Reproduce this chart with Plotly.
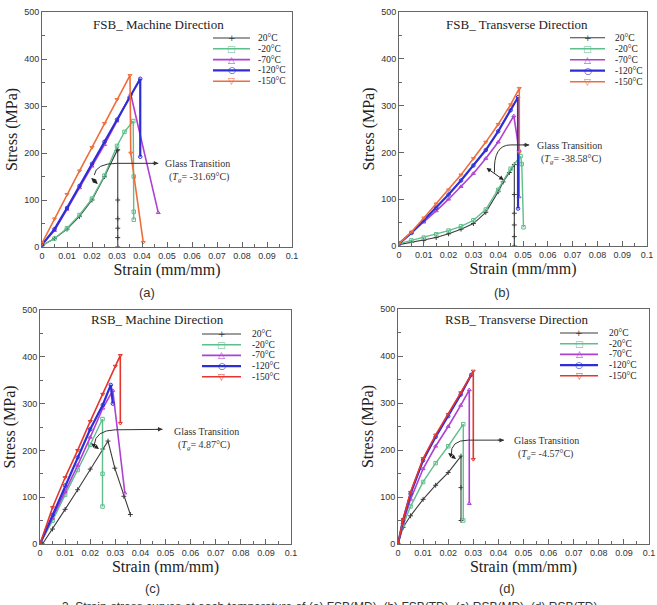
import plotly.graph_objects as go

# ---------------- DATA ----------------
temps = ["20\u00b0C", "-20\u00b0C", "-70\u00b0C", "-120\u00b0C", "-150\u00b0C"]
panel_titles = ["FSB_ Machine Direction", "FSB_ Transverse Direction",
                "RSB_ Machine Direction", "RSB_ Transverse Direction"]
panel_labels = ["(a)", "(b)", "(c)", "(d)"]
tg_labels = ["-31.69\u00b0C", "-38.58\u00b0C", "4.87\u00b0C", "-4.57\u00b0C"]

x_tick_values = [0, 0.01, 0.02, 0.03, 0.04, 0.05, 0.06, 0.07, 0.08, 0.09, 0.1]
x_tick_labels = ["0", "0.01", "0.02", "0.03", "0.04", "0.05", "0.06", "0.07", "0.08", "0.09", "0.1"]
y_tick_values = [0, 100, 200, 300, 400, 500]

# (a) FSB machine direction
fsb_md_20_strain = [0, 0.005, 0.01, 0.015, 0.02, 0.025, 0.03, 0.0303, 0.0303, 0.0303, 0.0303, 0.0303, 0.0303]
fsb_md_20_stress = [3, 18, 38, 65, 100, 150, 205, 207, 100, 60, 40, 20, 0]
fsb_md_m20_strain = [0, 0.005, 0.01, 0.015, 0.02, 0.025, 0.03, 0.033, 0.0365, 0.0367, 0.0367, 0.0367]
fsb_md_m20_stress = [3, 18, 40, 68, 103, 152, 215, 245, 268, 150, 75, 58]
fsb_md_m70_strain = [0, 0.005, 0.01, 0.015, 0.02, 0.025, 0.03, 0.0355, 0.0465]
fsb_md_m70_stress = [5, 35, 80, 126, 172, 218, 268, 325, 73]
fsb_md_m120_strain = [0, 0.005, 0.01, 0.015, 0.02, 0.025, 0.03, 0.035, 0.0393, 0.0393]
fsb_md_m120_stress = [5, 38, 83, 130, 177, 224, 271, 318, 358, 192]
fsb_md_m150_strain = [0, 0.005, 0.01, 0.015, 0.02, 0.025, 0.03, 0.0352, 0.0355, 0.0405]
fsb_md_m150_stress = [8, 60, 112, 162, 212, 263, 314, 365, 200, 10]

# (b) FSB transverse direction
fsb_td_20_strain = [0, 0.005, 0.01, 0.015, 0.02, 0.025, 0.03, 0.035, 0.04, 0.042, 0.0445, 0.0465, 0.0465, 0.0465, 0.0465, 0.0465, 0.0465]
fsb_td_20_stress = [3, 8, 12, 18, 26, 36, 48, 72, 116, 137, 157, 174, 110, 70, 45, 20, 0]
fsb_td_m20_strain = [0, 0.005, 0.01, 0.015, 0.02, 0.025, 0.03, 0.035, 0.04, 0.045, 0.049, 0.0495, 0.0502]
fsb_td_m20_stress = [5, 12, 18, 25, 33, 42, 55, 78, 120, 165, 192, 175, 40]
fsb_td_m70_strain = [0, 0.005, 0.01, 0.015, 0.02, 0.025, 0.03, 0.035, 0.04, 0.0463, 0.0484, 0.0484]
fsb_td_m70_stress = [5, 28, 51, 75, 100, 127, 155, 187, 222, 278, 205, 105]
fsb_td_m120_strain = [0, 0.005, 0.01, 0.015, 0.02, 0.025, 0.03, 0.035, 0.04, 0.045, 0.048, 0.048]
fsb_td_m120_stress = [5, 28, 55, 82, 110, 140, 172, 205, 245, 290, 318, 80]
fsb_td_m150_strain = [0, 0.005, 0.01, 0.015, 0.02, 0.025, 0.03, 0.035, 0.04, 0.045, 0.0485, 0.0485]
fsb_td_m150_stress = [5, 30, 60, 90, 120, 152, 187, 222, 260, 302, 337, 200]

# (c) RSB machine direction
rsb_md_20_strain = [0.001, 0.005, 0.01, 0.015, 0.02, 0.025, 0.0271, 0.0298, 0.0334, 0.036]
rsb_md_20_stress = [0, 32, 74, 116, 160, 203, 220, 162, 102, 63]
rsb_md_m20_strain = [0, 0.005, 0.01, 0.015, 0.02, 0.0249, 0.0249, 0.0249]
rsb_md_m20_stress = [0, 50, 105, 158, 212, 267, 150, 80]
rsb_md_m70_strain = [0, 0.005, 0.01, 0.015, 0.02, 0.025, 0.029, 0.0338]
rsb_md_m70_stress = [0, 55, 112, 168, 228, 290, 328, 109]
rsb_md_m120_strain = [0, 0.005, 0.01, 0.015, 0.02, 0.025, 0.0282, 0.029]
rsb_md_m120_stress = [0, 62, 125, 185, 245, 297, 340, 300]
rsb_md_m150_strain = [0, 0.005, 0.01, 0.015, 0.02, 0.025, 0.03, 0.032, 0.032]
rsb_md_m150_stress = [0, 78, 142, 200, 262, 320, 380, 403, 258]

# (d) RSB transverse direction
rsb_td_20_strain = [0, 0.002, 0.005, 0.01, 0.015, 0.02, 0.0251, 0.0251, 0.0251]
rsb_td_20_stress = [0, 35, 60, 95, 125, 152, 187, 120, 50]
rsb_td_m20_strain = [0, 0.002, 0.005, 0.01, 0.015, 0.02, 0.026, 0.026]
rsb_td_m20_stress = [0, 40, 80, 132, 172, 208, 255, 50]
rsb_td_m70_strain = [0, 0.002, 0.005, 0.01, 0.015, 0.02, 0.025, 0.0284, 0.0284]
rsb_td_m70_stress = [0, 45, 95, 160, 208, 250, 295, 328, 86]
rsb_td_m120_strain = [0, 0.002, 0.005, 0.01, 0.015, 0.02, 0.025, 0.0292]
rsb_td_m120_stress = [0, 50, 107, 178, 228, 272, 318, 360]
rsb_td_m150_strain = [0, 0.002, 0.005, 0.01, 0.015, 0.02, 0.025, 0.03, 0.03]
rsb_td_m150_stress = [0, 52, 110, 182, 232, 276, 322, 368, 180]

# glass-transition annotation anchors (strain, stress) per panel
tg_arrow_a = [(0.0191, 150), (0.0223, 134)]
tg_arrow_b = [(0.0347, 169), (0.0422, 141)]
tg_arrow_c = [(0.0198, 217), (0.0235, 203)]
tg_arrow_d = [(0.0194, 196), (0.0231, 181)]
tg_curve_a = [(0.0209, 153), (0.0215, 178), (0.03, 178), (0.0465, 178)]
tg_curve_b = [(0.0385, 157), (0.038, 216), (0.045, 216), (0.0525, 216)]
tg_curve_c = [(0.0216, 212), (0.022, 243), (0.03, 244), (0.0488, 245)]
tg_curve_d = [(0.0212, 189), (0.0208, 221), (0.028, 221), (0.0422, 221)]
tg_text_pos = [(0.0484, 177), (0.0548, 214), (0.0526, 241), (0.0454, 221)]

panels_data = [
    [(fsb_md_20_strain, fsb_md_20_stress), (fsb_md_m20_strain, fsb_md_m20_stress),
     (fsb_md_m70_strain, fsb_md_m70_stress), (fsb_md_m120_strain, fsb_md_m120_stress),
     (fsb_md_m150_strain, fsb_md_m150_stress)],
    [(fsb_td_20_strain, fsb_td_20_stress), (fsb_td_m20_strain, fsb_td_m20_stress),
     (fsb_td_m70_strain, fsb_td_m70_stress), (fsb_td_m120_strain, fsb_td_m120_stress),
     (fsb_td_m150_strain, fsb_td_m150_stress)],
    [(rsb_md_20_strain, rsb_md_20_stress), (rsb_md_m20_strain, rsb_md_m20_stress),
     (rsb_md_m70_strain, rsb_md_m70_stress), (rsb_md_m120_strain, rsb_md_m120_stress),
     (rsb_md_m150_strain, rsb_md_m150_stress)],
    [(rsb_td_20_strain, rsb_td_20_stress), (rsb_td_m20_strain, rsb_td_m20_stress),
     (rsb_td_m70_strain, rsb_td_m70_stress), (rsb_td_m120_strain, rsb_td_m120_stress),
     (rsb_td_m150_strain, rsb_td_m150_stress)],
]
tg_arrows = [tg_arrow_a, tg_arrow_b, tg_arrow_c, tg_arrow_d]
tg_curves = [tg_curve_a, tg_curve_b, tg_curve_c, tg_curve_d]

# ---------------- STYLE ----------------
W, H = 657, 605
SERIF = "Liberation Serif, Times New Roman, serif"
SANS = "Liberation Sans, Arial, sans-serif"

def PX(p):
    return p / W

def PY(p):
    return 1 - p / H

colors_fsb = ["#3c3c3c", "#5fbf8c", "#b03fd2", "#2e2ed6", "#ee6d3a"]
colors_rsb = ["#3c3c3c", "#5fbf8c", "#b03fd2", "#2e2ed6", "#e6352b"]
symbols = ["cross-thin-open", "square-open", "triangle-up-open", "circle-open", "triangle-down-open"]
legend_glyphs = ["+", "\u25a1", "\u25b3", "\u25cb", "\u25bd"]
widths = [1.1, 1.4, 1.6, 2.2, 1.6]

# plot-area boxes in pixels: (left, right, top, bottom)
boxes = [(42, 292, 12, 247), (399, 647, 12, 246), (40, 291, 310, 544), (398, 649, 309, 544)]
title_pos = [(158, 24), (517, 24), (157, 319), (517, 319)]
sublabel_pos = [(147, 292), (502, 292), (152, 588), (507, 588)]
# legend: (line x0, line x1, text x, first row y, row pitch)
legend_pos = [(213, 250, 256, 38, 10.8), (570, 605, 613, 37.7, 11.0),
              (202, 241, 250, 334, 10.7), (560, 598, 607, 333, 10.7)]

fig = go.Figure()
layout = dict(
    width=W, height=H, margin=dict(l=0, r=0, t=0, b=0),
    paper_bgcolor="white", plot_bgcolor="white", showlegend=False,
    font=dict(family=SANS, color="#222"),
)
annotations = []
shapes = []

for i in range(4):
    n = i + 1
    xa = "x" if n == 1 else f"x{n}"
    ya = "y" if n == 1 else f"y{n}"
    xkey = "xaxis" if n == 1 else f"xaxis{n}"
    ykey = "yaxis" if n == 1 else f"yaxis{n}"
    l, r, t, b = boxes[i]
    cols = colors_fsb if i < 2 else colors_rsb
    axis_line = dict(showline=True, linecolor="#666", linewidth=1, mirror=True,
                     showgrid=False, zeroline=False)
    layout[xkey] = dict(
        domain=[PX(l), PX(r)], anchor=ya, range=[0, 0.1],
        tickvals=x_tick_values, ticktext=x_tick_labels,
        ticks="inside", ticklen=5, tickcolor="#666",
        minor=dict(ticks="inside", ticklen=3, dtick=0.005, tickcolor="#666"),
        tickfont=dict(family=SANS, size=9, color="#333"),
        title=dict(text="Strain (mm/mm)", font=dict(family=SERIF, size=16, color="#222"), standoff=3),
        automargin=False, **axis_line)
    layout[ykey] = dict(
        domain=[PY(b), PY(t)], anchor=xa, range=[0, 500],
        tickvals=y_tick_values, ticks="inside", ticklen=5, tickcolor="#666",
        minor=dict(ticks="inside", ticklen=3, dtick=50, tickcolor="#666"),
        tickfont=dict(family=SANS, size=9, color="#333"),
        title=dict(text="Stress (MPa)", font=dict(family=SERIF, size=16, color="#222"), standoff=2),
        automargin=False, **axis_line)

    for k, (sx, sy) in enumerate(panels_data[i]):
        fig.add_trace(go.Scatter(
            x=sx, y=sy, xaxis=xa, yaxis=ya, mode="lines+markers", name=temps[k],
            line=dict(color=cols[k], width=widths[k]),
            marker=dict(symbol=symbols[k], size=3.5, color=cols[k], line=dict(color=cols[k], width=1)),
            showlegend=False, cliponaxis=True))

    # panel title inside plot
    tx, ty = title_pos[i]
    annotations.append(dict(text=panel_titles[i], x=PX(tx), y=PY(ty), xref="paper", yref="paper",
                            showarrow=False, xanchor="center", yanchor="middle",
                            font=dict(family=SERIF, size=13, color="#222")))
    # sub label
    sx_, sy_ = sublabel_pos[i]
    annotations.append(dict(text=panel_labels[i], x=PX(sx_), y=PY(sy_), xref="paper", yref="paper",
                            showarrow=False, xanchor="center", yanchor="middle",
                            font=dict(family=SANS, size=13, color="#333")))
    # manual compact legend
    lx0, lx1, ltx, ly0, pitch = legend_pos[i]
    for k in range(5):
        yy = ly0 + k * pitch
        shapes.append(dict(type="line", xref="paper", yref="paper", x0=PX(lx0), x1=PX(lx1),
                           y0=PY(yy), y1=PY(yy), line=dict(color=cols[k], width=widths[k])))
        annotations.append(dict(text=legend_glyphs[k], x=PX((lx0 + lx1) / 2), y=PY(yy),
                                xref="paper", yref="paper", showarrow=False,
                                xanchor="center", yanchor="middle",
                                font=dict(family="DejaVu Sans", size=9, color=cols[k])))
        annotations.append(dict(text=temps[k], x=PX(ltx), y=PY(yy), xref="paper", yref="paper",
                                showarrow=False, xanchor="left", yanchor="middle",
                                font=dict(family=SERIF, size=9.5, color="#222")))

    # glass transition annotation
    (ax0, ay0), (ax1, ay1) = tg_arrows[i]
    annotations.append(dict(x=ax1, y=ay1, ax=ax0, ay=ay0, xref=xa, yref=ya, axref=xa, ayref=ya,
                            text="", showarrow=True, arrowside="end+start", arrowhead=2,
                            arrowsize=0.9, arrowwidth=1, arrowcolor="#222"))
    p0, c1, p1, p2 = tg_curves[i]
    shapes.append(dict(type="path", xref=xa, yref=ya,
                       path=f"M {p0[0]},{p0[1]} Q {c1[0]},{c1[1]} {p1[0]},{p1[1]} L {p2[0]},{p2[1]}",
                       line=dict(color="#333", width=1)))
    annotations.append(dict(x=p2[0], y=p2[1], ax=p2[0] - 0.003, ay=p2[1], xref=xa, yref=ya,
                            axref=xa, ayref=ya, text="", showarrow=True, arrowhead=2,
                            arrowsize=0.9, arrowwidth=1, arrowcolor="#333"))
    gx, gy = tg_text_pos[i]
    annotations.append(dict(text="Glass Transition", x=gx, y=gy, xref=xa, yref=ya,
                            showarrow=False, xanchor="left", yanchor="middle",
                            font=dict(family=SERIF, size=10, color="#333")))
    annotations.append(dict(text=f"(<i>T</i><sub><i>g</i></sub>= {tg_labels[i]})",
                            x=gx + 0.0015, y=gy - 30, xref=xa, yref=ya,
                            showarrow=False, xanchor="left", yanchor="middle",
                            font=dict(family=SERIF, size=10, color="#333")))

# caption (cut off at the bottom edge, as in the reference)
annotations.append(dict(text="3. Strain-stress curves at each temperature of (a) FSB(MD), (b) FSB(TD), (c) RSB(MD), (d) RSB(TD).",
                        x=PX(603), y=PY(598), xref="paper", yref="paper", showarrow=False,
                        xanchor="right", yanchor="top",
                        font=dict(family=SANS, size=12, color="#333")))

layout["annotations"] = annotations
layout["shapes"] = shapes
fig.update_layout(**layout)
fig.write_html("out.html")
